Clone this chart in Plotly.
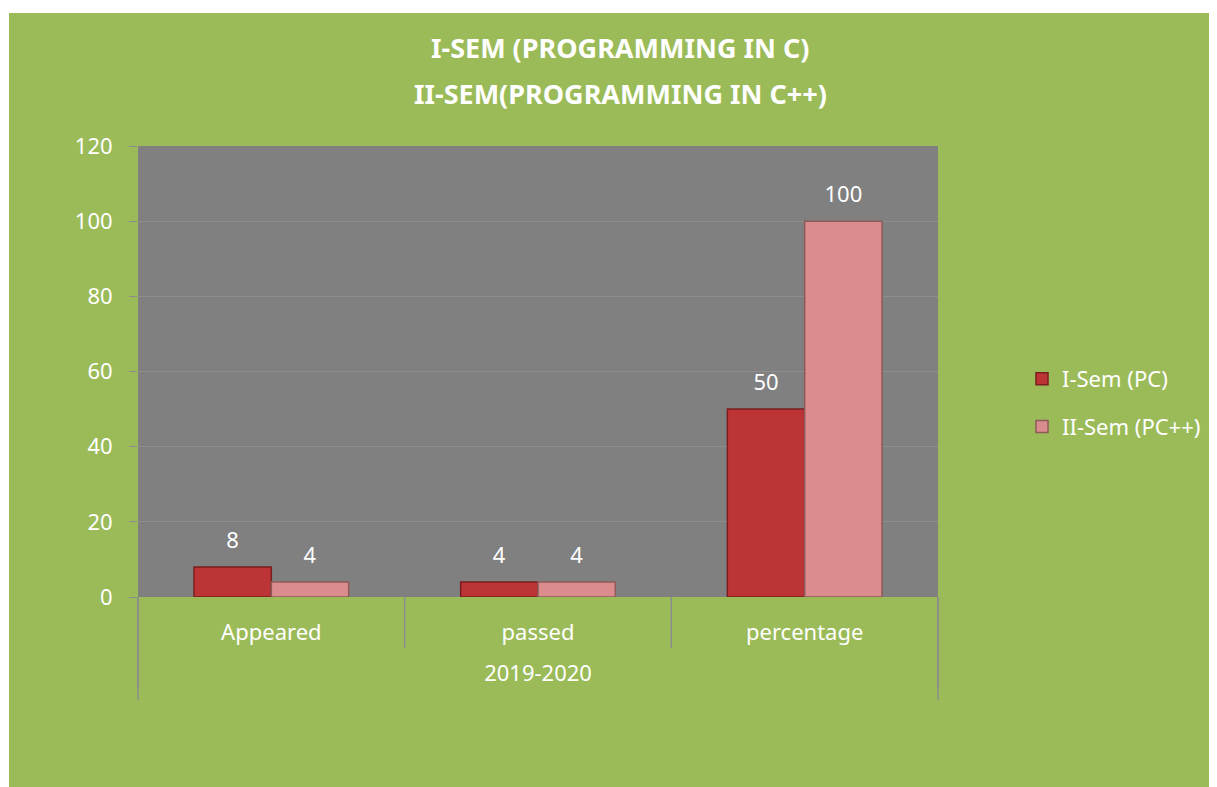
import plotly.graph_objects as go

years = ["2019-2020", "2019-2020", "2019-2020"]
measures = ["Appeared", "passed", "percentage"]
sem1_pc = [8, 4, 50]
sem2_pcpp = [4, 4, 100]
series_names = ["I-Sem (PC)", "II-Sem (PC++)"]
title_lines = ["I-SEM (PROGRAMMING IN C)", "II-SEM(PROGRAMMING IN C++)"]
y_ticks = [0, 20, 40, 60, 80, 100, 120]

GREEN = "#9BBB59"
GRAY = "#808080"
DIVIDER = "#8C8C8C"
FONT = "Noto Sans"
# value labels: big number, then a small blank line to lift it off the bar
LABEL = "<span style='font-size:22px'>%{y}</span><br> "

# outer level sits one line lower, as in the reference
x_levels = [["<br>" + y for y in years], measures]

fig = go.Figure()

fig.add_trace(go.Bar(
    x=x_levels, y=sem1_pc, name=series_names[0],
    marker=dict(color="#BC3435", line=dict(color="#7A1E1F", width=1.5)),
    texttemplate=LABEL, textposition="outside", cliponaxis=False,
    constraintext="none",
    textfont=dict(color="white", size=10, family=FONT),
    legendgroup="a",
))
fig.add_trace(go.Bar(
    x=x_levels, y=sem2_pcpp, name=series_names[1],
    marker=dict(color="#DB8C8C", line=dict(color="#8E5A5A", width=1.5)),
    texttemplate=LABEL, textposition="outside", cliponaxis=False,
    constraintext="none",
    textfont=dict(color="white", size=10, family=FONT),
    legendgroup="b",
))

# green card with white border, then gray plot area on top of it
fig.add_shape(type="rect", xref="paper", yref="paper", layer="below",
              x0=-0.16125, x1=1.37, y0=-0.45, y1=1.2949,
              fillcolor=GREEN, line=dict(width=0))
fig.add_shape(type="rect", xref="x domain", yref="y domain", layer="below",
              x0=0, x1=1, y0=0, y1=1, fillcolor=GRAY, line=dict(width=0))

# category dividers: short ones between measures, long ones at the group edges
n = len(measures)
for i in range(0, n + 1):
    depth = -0.228 if i in (0, n) else -0.113
    fig.add_shape(type="line", xref="x domain", yref="y domain",
                  x0=i / n, x1=i / n, y0=0, y1=depth,
                  line=dict(color=DIVIDER, width=1.5))

for text, ypos in zip(title_lines, [1.2173, 1.1175]):
    fig.add_annotation(
        text="<b>" + text + "</b>", xref="paper", yref="paper",
        x=0.6025, y=ypos, xanchor="center", yanchor="middle",
        showarrow=False, font=dict(size=27, color="white", family=FONT),
    )

fig.update_layout(
    width=1217, height=787,
    margin=dict(l=130, r=287, t=138, b=198),
    paper_bgcolor="white",
    plot_bgcolor=GRAY,
    barmode="group",
    bargap=0.42,
    bargroupgap=0,
    font=dict(family=FONT, color="white", size=22),
    legend=dict(
        x=1.105, xanchor="left", y=0.43, yanchor="middle",
        bgcolor="rgba(0,0,0,0)", font=dict(size=22, color="white"),
        traceorder="grouped", tracegroupgap=16,
    ),
    showlegend=True,
)

fig.update_xaxes(
    showgrid=False, showline=False,
    showdividers=True, dividercolor=DIVIDER, dividerwidth=1.5,
    tickfont=dict(size=22, color="white"),
    ticks="", ticklabelstandoff=20,
)
fig.update_yaxes(
    range=[0, 120], tickvals=y_ticks,
    showgrid=True, gridcolor="#8E8E8E", gridwidth=1,
    zeroline=False, showline=False,
    ticks="outside", ticklen=8, tickcolor=DIVIDER,
    ticklabelstandoff=12,
    tickfont=dict(size=22, color="white"),
)

fig.write_html("out.html")
